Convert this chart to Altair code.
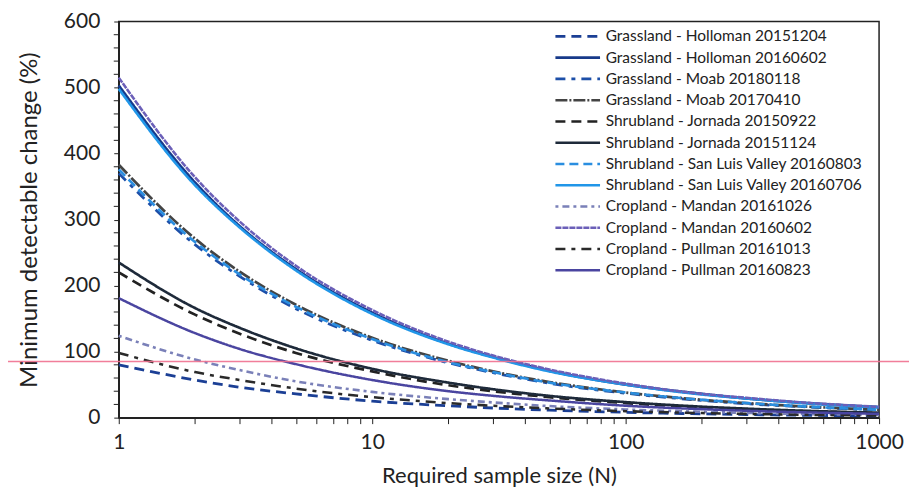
import altair as alt
import pandas as pd

# Sample sizes at which values were read
n_values = [1, 2, 3, 5, 10, 20, 30, 50, 100, 200, 300, 500, 1000]

series_names = [
    "Grassland - Holloman 20151204",
    "Grassland - Holloman 20160602",
    "Grassland - Moab 20180118",
    "Grassland - Moab 20170410",
    "Shrubland - Jornada 20150922",
    "Shrubland - Jornada 20151124",
    "Shrubland - San Luis Valley 20160803",
    "Shrubland - San Luis Valley 20160706",
    "Cropland - Mandan 20161026",
    "Cropland - Mandan 20160602",
    "Cropland - Pullman 20161013",
    "Cropland - Pullman 20160823",
]

holloman_20151204 = [80, 57, 46, 36, 25, 17.9, 14.6, 11.3, 8, 5.7, 4.6, 3.6, 2.5]
holloman_20160602 = [503, 356, 290, 225, 159, 112, 92, 71, 50, 36, 29, 22.5, 15.9]
moab_20180118 = [370, 262, 214, 165, 117, 83, 68, 52, 37, 26, 21, 16.5, 11.7]
moab_20170410 = [383, 271, 221, 171, 121, 86, 70, 54, 38, 27, 22, 17, 12.1]
jornada_20150922 = [220, 156, 127, 98, 70, 49, 40, 31, 22, 15.6, 12.7, 9.8, 7.0]
jornada_20151124 = [235, 166, 136, 105, 74, 53, 43, 33, 23.5, 16.6, 13.6, 10.5, 7.4]
sanluis_20160803 = [376, 266, 217, 168, 119, 84, 69, 53, 38, 27, 22, 17, 11.9]
sanluis_20160706 = [498, 352, 288, 223, 157, 111, 91, 70, 50, 35, 29, 22, 15.7]
mandan_20161026 = [124, 88, 72, 55, 39, 28, 23, 17.5, 12.4, 8.8, 7.2, 5.5, 3.9]
mandan_20160602 = [515, 364, 297, 230, 163, 115, 94, 73, 51.5, 36, 30, 23, 16.3]
pullman_20161013 = [98, 69, 57, 44, 31, 22, 18, 13.9, 9.8, 6.9, 5.7, 4.4, 3.1]
pullman_20160823 = [181, 128, 104, 81, 57, 40, 33, 26, 18, 12.8, 10.4, 8.1, 5.7]

series_values = [
    holloman_20151204, holloman_20160602, moab_20180118, moab_20170410,
    jornada_20150922, jornada_20151124, sanluis_20160803, sanluis_20160706,
    mandan_20161026, mandan_20160602, pullman_20161013, pullman_20160823,
]

colors = [
    "#1b3f95", "#173a8a", "#1d4fa8", "#444444",
    "#222222", "#1e2a3a", "#2a8ee0", "#2196e8",
    "#7a80b8", "#6b5fb8", "#2a2a2a", "#4a45a0",
]
dashes = [
    [10, 6], [1, 0], [10, 6, 4, 6], [12, 2, 2, 2],
    [10, 6], [1, 0], [9, 5], [1, 0],
    [3, 4, 7, 4], [6, 1], [10, 6, 4, 6], [1, 0],
]
widths = [2.8, 2.5, 2.8, 1.6, 2.6, 2.0, 2.6, 2.2, 2.2, 1.6, 2.4, 2.0]

y_major_ticks = [0, 100, 200, 300, 400, 500, 600]
y_minor_ticks = [v for v in range(0, 601, 20) if v % 100 != 0]
x_ticks = [1, 2, 3, 4, 5, 6, 7, 8, 9, 10, 20, 30, 40, 50, 60, 70, 80, 90,
           100, 200, 300, 400, 500, 600, 700, 800, 900, 1000]
artifact_level = [85]

rows = []
for name, vals in zip(series_names, series_values):
    for n, v in zip(n_values, vals):
        rows.append({"series": name, "N": n, "MDC": v})
df = pd.DataFrame(rows)

FONT = "Lato"
W, H = 762, 397

legend = alt.Legend(
    title=None, orient="none", legendX=436, legendY=7,
    symbolType="stroke", symbolSize=2000, labelFontSize=15.5, labelFont=FONT,
    labelColor="#222222", labelLimit=400, rowPadding=4.3, labelOffset=4,
    clipHeight=16,
)

lines = alt.Chart(df).mark_line(interpolate="monotone").encode(
    x=alt.X("N:Q", scale=alt.Scale(type="log", domain=[1, 1000], nice=False),
            axis=alt.Axis(values=x_ticks, title="Required sample size (N)",
                          labelExpr="(datum.value==1||datum.value==10||datum.value==100||datum.value==1000) ? toString(datum.value) : ''",
                          grid=False, tickSize=6, labelFontSize=21, titleFontSize=22,
                          labelPadding=8, titlePadding=13, titleFontWeight="normal",
                          labelOverlap=False, labelFlush=False)),
    y=alt.Y("MDC:Q", scale=alt.Scale(domain=[0, 600], nice=False),
            axis=alt.Axis(values=y_major_ticks, title="Minimum detectable change (%)",
                          format="d",
                          grid=False, tickSize=5, labelFontSize=21, titleFontSize=24,
                          labelPadding=14, titlePadding=22, titleFontWeight="normal",
                          labelOverlap=False, labelFlush=False)),
    color=alt.Color("series:N", scale=alt.Scale(domain=series_names, range=colors),
                    sort=series_names, legend=legend),
    strokeDash=alt.StrokeDash("series:N", scale=alt.Scale(domain=series_names, range=dashes),
                              sort=series_names, legend=legend),
    strokeWidth=alt.StrokeWidth("series:N", scale=alt.Scale(domain=series_names, range=widths),
                                sort=series_names, legend=legend),
)

minor = alt.Chart(pd.DataFrame({"MDC": y_minor_ticks})).mark_rule(
    color="#222222", strokeWidth=1
).encode(y="MDC:Q", x=alt.value(-5), x2=alt.value(0))

artifact = alt.Chart(pd.DataFrame({"MDC": artifact_level})).mark_rule(
    color="#f0708f", strokeWidth=1.5, opacity=0.9
).encode(y="MDC:Q", x=alt.value(-111), x2=alt.value(W + 30))

chart = alt.layer(lines, minor, artifact).properties(
    width=W, height=H,
    autosize=alt.AutoSizeParams(type="none"),
    padding={"left": 111, "top": 13, "right": 30, "bottom": 75},
    background="white",
).configure_view(stroke="#222222", strokeWidth=1.5).configure_axis(
    domainColor="#222222", tickColor="#222222", labelColor="#222222",
    titleColor="#222222", labelFont=FONT, titleFont=FONT, domainWidth=1.5,
)

chart.save("out.html", embed_options={"renderer": "svg", "actions": False})
